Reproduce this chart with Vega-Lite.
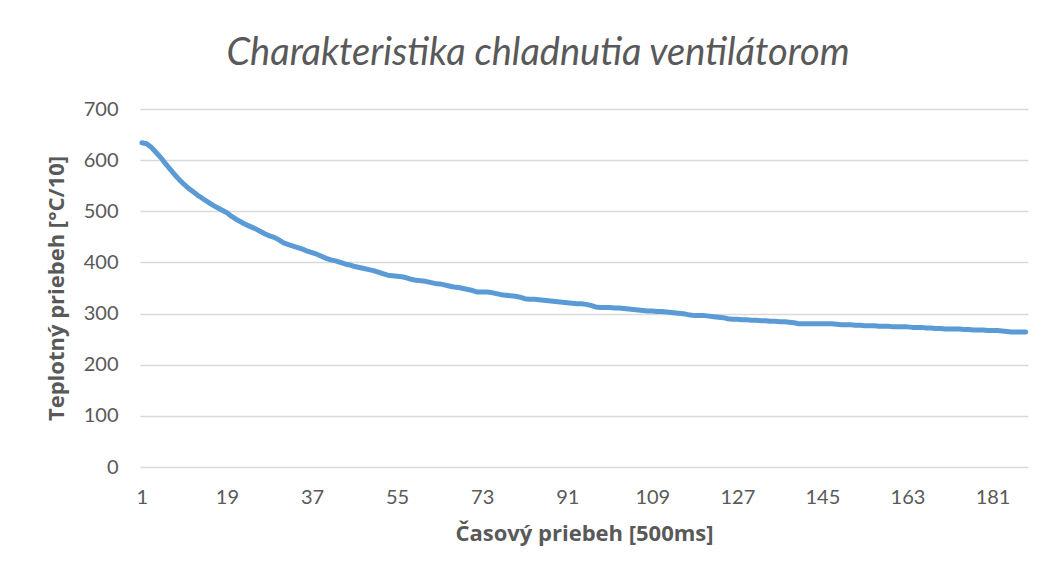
{
  "$schema": "https://vega.github.io/schema/vega-lite/v6.json",
  "autosize": {"type": "none"},
  "width": 888,
  "height": 358,
  "padding": {"left": 140, "top": 109, "right": 31, "bottom": 113},
  "background": "white",
  "config": {"view": {"stroke": null}, "font": "Lato"},
  "title": {
    "text": "Charakteristika chladnutia ventilátorom",
    "font": "Lato",
    "fontSize": 38,
    "fontStyle": "italic",
    "fontWeight": "normal",
    "color": "#595959",
    "anchor": "middle",
    "dx": -46,
    "offset": 26
  },
  "data": {
    "values": [
      {"t":1,"v":634},{"t":2,"v":632},{"t":3,"v":625},{"t":4,"v":615},{"t":5,"v":605},{"t":6,"v":593},{"t":7,"v":582},{"t":8,"v":571},{"t":9,"v":561},{"t":10,"v":552},
      {"t":11,"v":544},{"t":12,"v":537},{"t":13,"v":530},{"t":14,"v":524},{"t":15,"v":518},{"t":16,"v":512},{"t":17,"v":507},{"t":18,"v":502},{"t":19,"v":497},{"t":20,"v":490},
      {"t":21,"v":484},{"t":22,"v":479},{"t":23,"v":474},{"t":24,"v":470},{"t":25,"v":466},{"t":26,"v":461},{"t":27,"v":456},{"t":28,"v":452},{"t":29,"v":449},{"t":30,"v":444},
      {"t":31,"v":438},{"t":32,"v":435},{"t":33,"v":432},{"t":34,"v":429},{"t":35,"v":426},{"t":36,"v":422},{"t":37,"v":419},{"t":38,"v":416},{"t":39,"v":412},{"t":40,"v":408},
      {"t":41,"v":405},{"t":42,"v":403},{"t":43,"v":400},{"t":44,"v":397},{"t":45,"v":395},{"t":46,"v":392},{"t":47,"v":390},{"t":48,"v":388},{"t":49,"v":386},{"t":50,"v":384},
      {"t":51,"v":381},{"t":52,"v":378},{"t":53,"v":375},{"t":54,"v":374},{"t":55,"v":373},{"t":56,"v":372},{"t":57,"v":370},{"t":58,"v":367},{"t":59,"v":365},{"t":60,"v":364},
      {"t":61,"v":363},{"t":62,"v":361},{"t":63,"v":359},{"t":64,"v":358},{"t":65,"v":356},{"t":66,"v":354},{"t":67,"v":352},{"t":68,"v":351},{"t":69,"v":349},{"t":70,"v":347},
      {"t":71,"v":345},{"t":72,"v":342},{"t":73,"v":342},{"t":74,"v":342},{"t":75,"v":341},{"t":76,"v":339},{"t":77,"v":337},{"t":78,"v":336},{"t":79,"v":335},{"t":80,"v":334},
      {"t":81,"v":332},{"t":82,"v":329},{"t":83,"v":328},{"t":84,"v":328},{"t":85,"v":327},{"t":86,"v":326},{"t":87,"v":325},{"t":88,"v":324},{"t":89,"v":323},{"t":90,"v":322},
      {"t":91,"v":321},{"t":92,"v":320},{"t":93,"v":319},{"t":94,"v":319},{"t":95,"v":318},{"t":96,"v":316},{"t":97,"v":313},{"t":98,"v":312},{"t":99,"v":312},{"t":100,"v":312},
      {"t":101,"v":311},{"t":102,"v":311},{"t":103,"v":310},{"t":104,"v":309},{"t":105,"v":308},{"t":106,"v":307},{"t":107,"v":306},{"t":108,"v":305},{"t":109,"v":305},{"t":110,"v":304},
      {"t":111,"v":304},{"t":112,"v":303},{"t":113,"v":302},{"t":114,"v":301},{"t":115,"v":300},{"t":116,"v":299},{"t":117,"v":297},{"t":118,"v":296},{"t":119,"v":296},{"t":120,"v":296},
      {"t":121,"v":295},{"t":122,"v":294},{"t":123,"v":293},{"t":124,"v":292},{"t":125,"v":290},{"t":126,"v":289},{"t":127,"v":289},{"t":128,"v":288},{"t":129,"v":288},{"t":130,"v":287},
      {"t":131,"v":287},{"t":132,"v":286},{"t":133,"v":286},{"t":134,"v":285},{"t":135,"v":285},{"t":136,"v":284},{"t":137,"v":284},{"t":138,"v":283},{"t":139,"v":282},{"t":140,"v":280},
      {"t":141,"v":280},{"t":142,"v":280},{"t":143,"v":280},{"t":144,"v":280},{"t":145,"v":280},{"t":146,"v":280},{"t":147,"v":280},{"t":148,"v":279},{"t":149,"v":278},{"t":150,"v":278},
      {"t":151,"v":278},{"t":152,"v":277},{"t":153,"v":277},{"t":154,"v":276},{"t":155,"v":276},{"t":156,"v":276},{"t":157,"v":275},{"t":158,"v":275},{"t":159,"v":275},{"t":160,"v":274},
      {"t":161,"v":274},{"t":162,"v":274},{"t":163,"v":274},{"t":164,"v":273},{"t":165,"v":273},{"t":166,"v":273},{"t":167,"v":272},{"t":168,"v":272},{"t":169,"v":271},{"t":170,"v":271},
      {"t":171,"v":270},{"t":172,"v":270},{"t":173,"v":270},{"t":174,"v":270},{"t":175,"v":269},{"t":176,"v":269},{"t":177,"v":268},{"t":178,"v":268},{"t":179,"v":268},{"t":180,"v":267},
      {"t":181,"v":267},{"t":182,"v":267},{"t":183,"v":266},{"t":184,"v":265},{"t":185,"v":264},{"t":186,"v":264},{"t":187,"v":264},{"t":188,"v":264}
    ]
  },
  "mark": {"type": "line", "color": "#5b9bd5", "strokeWidth": 5, "strokeCap": "round", "strokeJoin": "round"},
  "encoding": {
    "x": {
      "field": "t",
      "type": "quantitative",
      "scale": {"domain": [0.6, 188.5], "nice": false, "zero": false},
      "axis": {
        "values": [1, 19, 37, 55, 73, 91, 109, 127, 145, 163, 181],
        "grid": false,
        "domain": false,
        "ticks": false,
        "labelPadding": 20,
        "labelFontSize": 20,
        "labelColor": "#595959",
        "labelFont": "Lato",
        "title": "Časový priebeh [500ms]",
        "titleFont": "Open Sans",
        "titleFontSize": 22,
        "titleFontWeight": "bold",
        "titleColor": "#595959",
        "titlePadding": 16
      }
    },
    "y": {
      "field": "v",
      "type": "quantitative",
      "scale": {"domain": [0, 700], "nice": false},
      "axis": {
        "values": [0, 100, 200, 300, 400, 500, 600, 700],
        "grid": true,
        "gridColor": "#d9d9d9",
        "gridWidth": 1.3,
        "domain": false,
        "ticks": false,
        "labelPadding": 22,
        "labelFontSize": 20,
        "labelColor": "#595959",
        "labelFont": "Lato",
        "title": "Teplotný priebeh [°C/10]",
        "titleFont": "Open Sans",
        "titleFontSize": 22,
        "titleFontWeight": "bold",
        "titleColor": "#595959",
        "titlePadding": 15
      }
    }
  }
}
